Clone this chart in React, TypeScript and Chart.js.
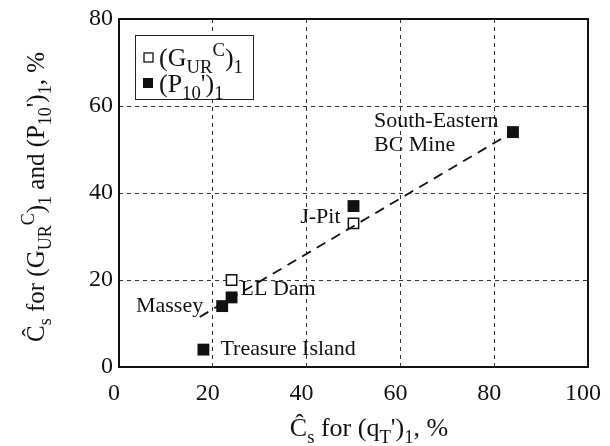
import React, { useEffect, useRef } from "react";
import { Chart, registerables } from "chart.js";
Chart.register(...registerables);

const siteNames = ["Treasure Island", "Massey", "LL Dam", "J-Pit", "South-Eastern BC Mine"];
const pX = [18, 22, 24, 50, 84];
const pY = [4, 14, 16, 37, 54];
const gSites = ["LL Dam", "J-Pit"];
const gX = [24, 50];
const gY = [20, 33];
const trendX = [17.2, 85.5];
const trendY = [11.5, 55];
const xTickValues = [0, 20, 40, 60, 80, 100];
const yTickValues = [0, 20, 40, 60, 80];

const FONT = "'Liberation Serif', 'Times New Roman', serif";

type Seg = { t: string; k?: "n" | "sub" | "sup" };

function segWidth(ctx: CanvasRenderingContext2D, segs: Seg[], size: number) {
  let w = 0;
  for (const s of segs) {
    const sz = s.k && s.k !== "n" ? size * 0.72 : size;
    ctx.font = `${sz}px ${FONT}`;
    w += ctx.measureText(s.t).width;
  }
  return w;
}

function drawRich(ctx: CanvasRenderingContext2D, segs: Seg[], x: number, y: number, size: number, align: "left" | "center") {
  const total = segWidth(ctx, segs, size);
  let cx = align === "center" ? x - total / 2 : x;
  ctx.textBaseline = "alphabetic";
  ctx.textAlign = "left";
  for (const s of segs) {
    const small = s.k && s.k !== "n";
    const sz = small ? size * 0.72 : size;
    ctx.font = `${sz}px ${FONT}`;
    let dy = 0;
    if (s.k === "sub") dy = size * 0.28;
    if (s.k === "sup") dy = -size * 0.4;
    ctx.fillText(s.t, cx, y + dy);
    cx += ctx.measureText(s.t).width;
  }
}

const labelOffsets: Record<string, [number, number, "left" | "right"]> = {
  "Treasure Island": [17, 0, "left"],
  Massey: [-19, 0, "right"],
  "LL Dam": [9, -8, "left"],
  "J-Pit": [-13, 11, "right"],
  "South-Eastern BC Mine": [-139, 0, "left"],
};

const overlay = {
  id: "overlay",
  afterDraw(chart: any) {
    const ctx: CanvasRenderingContext2D = chart.ctx;
    const { left, right, top, bottom } = chart.chartArea;
    const xs = chart.scales.x;
    const ys = chart.scales.y;
    ctx.save();
    // frame
    ctx.strokeStyle = "#111";
    ctx.lineWidth = 2;
    ctx.setLineDash([]);
    ctx.strokeRect(left, top, right - left, bottom - top);

    // annotations
    ctx.fillStyle = "#111";
    ctx.textBaseline = "middle";
    ctx.font = `22px ${FONT}`;
    siteNames.forEach((name, i) => {
      const px = xs.getPixelForValue(pX[i]);
      const py = ys.getPixelForValue(pY[i]);
      const [dx, dy, al] = labelOffsets[name];
      ctx.textAlign = al;
      if (name === "South-Eastern BC Mine") {
        ctx.fillText("South-Eastern", px + dx, py + dy - 11);
        ctx.fillText("BC Mine", px + dx, py + dy + 13);
      } else {
        ctx.fillText(name, px + dx, py + dy);
      }
    });

    // legend
    const lx = left + 16, ly = top + 16, lw = 118, lh = 64;
    ctx.fillStyle = "#fff";
    ctx.fillRect(lx, ly, lw, lh);
    ctx.strokeStyle = "#222";
    ctx.lineWidth = 1;
    ctx.strokeRect(lx + 0.5, ly + 0.5, lw, lh);
    ctx.lineWidth = 1.3;
    ctx.strokeStyle = "#111";
    ctx.strokeRect(lx + 9, ly + 18, 9, 9);
    ctx.fillStyle = "#111";
    ctx.fillRect(lx + 8, ly + 43, 10, 10);
    drawRich(ctx, [{ t: "(G" }, { t: "UR", k: "sub" }, { t: "C", k: "sup" }, { t: ")" }, { t: "1", k: "sub" }], lx + 24, ly + 31, 26, "left");
    drawRich(ctx, [{ t: "(P" }, { t: "10", k: "sub" }, { t: "')" }, { t: "1", k: "sub" }], lx + 24, ly + 57, 26, "left");

    // x title
    drawRich(ctx, [{ t: "Ĉ" }, { t: "s", k: "sub" }, { t: " for (q" }, { t: "T", k: "sub" }, { t: "')" }, { t: "1", k: "sub" }, { t: ", %" }], 369, 436, 26, "center");

    // y title
    ctx.translate(44, 197);
    ctx.rotate(-Math.PI / 2);
    drawRich(ctx, [
      { t: "Ĉ" }, { t: "s", k: "sub" }, { t: " for (G" }, { t: "UR", k: "sub" }, { t: "C", k: "sup" }, { t: ")" }, { t: "1", k: "sub" },
      { t: " and (P" }, { t: "10", k: "sub" }, { t: "')" }, { t: "1", k: "sub" }, { t: ", %" },
    ], 0, 0, 25, "center");
    ctx.restore();
  },
};

export default function App() {
  const ref = useRef<HTMLCanvasElement>(null);
  useEffect(() => {
    if (!ref.current) return;
    const chart = new Chart(ref.current, {
      type: "scatter",
      data: {
        datasets: [
          {
            type: "line",
            label: "trend",
            data: trendX.map((x, i) => ({ x, y: trendY[i] })),
            borderColor: "#111",
            borderWidth: 1.8,
            borderDash: [10, 7],
            pointRadius: 0,
            fill: false,
          } as any,
          {
            label: "(GURC)1",
            data: gX.map((x, i) => ({ x, y: gY[i] })),
            pointStyle: "rect",
            pointRadius: 7.3,
            backgroundColor: "#fff",
            borderColor: "#111",
            borderWidth: 1.5,
          },
          {
            label: "(P10')1",
            data: pX.map((x, i) => ({ x, y: pY[i] })),
            pointStyle: "rect",
            pointRadius: 8.4,
            backgroundColor: "#111",
            borderColor: "#111",
            borderWidth: 0,
          },
        ],
      },
      options: {
        responsive: false,
        animation: false,
        layout: { padding: { left: 0, top: 19, right: 22, bottom: 0 } },
        plugins: { legend: { display: false }, tooltip: { enabled: false } },
        scales: {
          x: {
            type: "linear",
            min: 0,
            max: 100,
            afterBuildTicks: (s: any) => { s.ticks = xTickValues.map((v) => ({ value: v })); },
            afterFit: (s: any) => { s.height = 79; s.paddingLeft = 0; s.paddingRight = 0; },
            ticks: { color: "#111", font: { family: FONT, size: 24 }, padding: 12, maxRotation: 0, labelOffset: -5 },
            grid: { color: "#333", lineWidth: 1, drawTicks: false },
            border: { display: false, dash: [4, 4] },
          },
          y: {
            type: "linear",
            min: 0,
            max: 80,
            afterBuildTicks: (s: any) => { s.ticks = yTickValues.map((v) => ({ value: v })); },
            afterFit: (s: any) => { s.width = 119; s.paddingTop = 0; s.paddingBottom = 0; },
            ticks: { color: "#111", font: { family: FONT, size: 24 }, padding: 6 },
            grid: { color: "#333", lineWidth: 1, drawTicks: false },
            border: { display: false, dash: [4, 4] },
          },
        },
      },
      plugins: [overlay],
    });
    return () => chart.destroy();
  }, []);
  return (
    <div style={{ position: "absolute", left: 0, top: 0, width: 610, height: 446, background: "#fff" }}>
      <canvas ref={ref} width={610} height={446} style={{ width: 610, height: 446 }} />
    </div>
  );
}
